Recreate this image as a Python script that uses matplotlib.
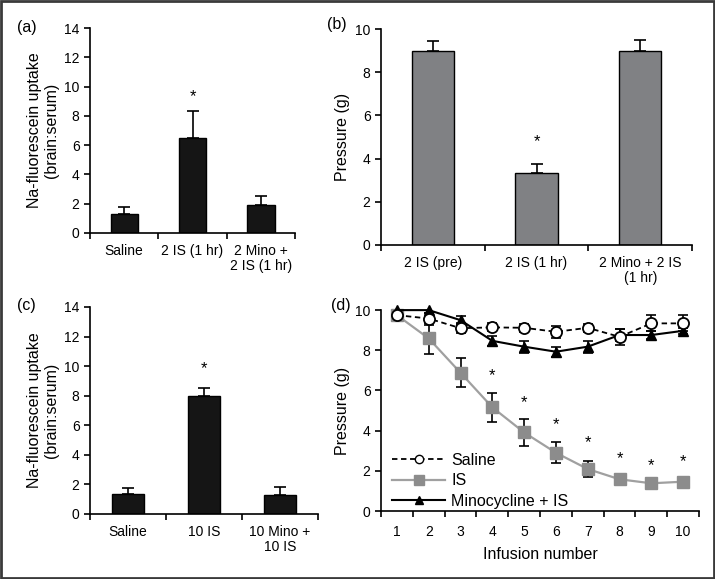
import numpy as np
import matplotlib
matplotlib.use("Agg")
import matplotlib.pyplot as plt
from matplotlib.patches import Rectangle
from matplotlib.lines import Line2D

plt.rcParams['font.family'] = ['Liberation Sans', 'DejaVu Sans']

# ===== Dati =====
# (a) Na-fluorescein, dose 2 IS
a_labels = ['Saline', '2 IS (1 hr)', '2 Mino +\n2 IS (1 hr)']
a_vals = [1.3, 6.5, 1.9]
a_err = [0.45, 1.8, 0.65]
a_star = [None, 9.3, None]

# (b) pressione, dose 2 IS
b_labels = ['2 IS (pre)', '2 IS (1 hr)', '2 Mino + 2 IS\n(1 hr)']
b_vals = [9.0, 3.35, 9.0]
b_err = [0.45, 0.4, 0.5]
b_star = [None, 4.8, None]

# (c) Na-fluorescein, dose 10 IS
c_labels = ['Saline', '10 IS', '10 Mino +\n10 IS']
c_vals = [1.35, 7.95, 1.3]
c_err = [0.4, 0.6, 0.55]
c_star = [None, 9.8, None]

# (d) pressione vs numero di infusione
infusion = [1, 2, 3, 4, 5, 6, 7, 8, 9, 10]
saline = [9.75, 9.58, 9.1, 9.14, 9.12, 8.92, 9.12, 8.67, 9.34, 9.34]
saline_err = [0.15, 0.3, 0.25, 0.2, 0.2, 0.3, 0.2, 0.4, 0.4, 0.4]
is_vals = [9.75, 8.59, 6.88, 5.16, 3.91, 2.9, 2.09, 1.58, 1.38, 1.46]
is_err = [0.15, 0.75, 0.72, 0.73, 0.68, 0.52, 0.38, 0.12, 0.2, 0.12]
mino = [10.0, 10.0, 9.5, 8.47, 8.18, 7.93, 8.18, 8.76, 8.76, 8.97]
mino_err = [0.1, 0.15, 0.2, 0.25, 0.3, 0.25, 0.3, 0.3, 0.2, 0.15]
d_star_x = [4, 5, 6, 7, 8, 9, 10]
d_star_y = [6.72, 5.39, 4.28, 3.4, 2.62, 2.24, 2.45]

TICK_FS = 10
LABEL_FS = 11.5


def style_axes(ax):
    for s in ['top', 'right']:
        ax.spines[s].set_visible(False)
    for s in ['left', 'bottom']:
        ax.spines[s].set_linewidth(1.2)
    ax.tick_params(axis='y', which='major', direction='out', length=4,
                   width=1.2, labelsize=TICK_FS)


def bar_panel(ax, labels, vals, err, stars, color, ymax, ystep, ylabel, width):
    x = np.arange(len(vals))
    ax.bar(x, vals, width=width, color=color, edgecolor='black', linewidth=1.0, zorder=2)
    ax.errorbar(x, vals, yerr=[np.zeros(len(err)), err], fmt='none', ecolor='black',
                elinewidth=1.2, capsize=4, capthick=1.2, zorder=1)
    for xi, s in zip(x, stars):
        if s is not None:
            ax.text(xi, s, '*', ha='center', va='center', fontsize=12)
    ax.set_xlim(-0.5, len(vals) - 0.5)
    ax.set_ylim(0, ymax)
    ax.set_yticks(np.arange(0, ymax + 0.1, ystep))
    ax.set_xticks(x)
    ax.set_xticklabels(labels, fontsize=TICK_FS, linespacing=1.1)
    ax.tick_params(axis='x', which='major', length=0, pad=8)
    ax.set_xticks(np.arange(-0.5, len(vals)), minor=True)
    ax.tick_params(axis='x', which='minor', direction='out', length=4, width=1.2)
    ax.set_ylabel(ylabel, fontsize=LABEL_FS, linespacing=1.1)
    style_axes(ax)


fig = plt.figure(figsize=(7.15, 5.79), dpi=100)

ax_a = fig.add_axes([0.1259, 0.5976, 0.2867, 0.354])
ax_b = fig.add_axes([0.5329, 0.5769, 0.435, 0.373])
ax_c = fig.add_axes([0.1259, 0.1123, 0.319, 0.3575])
ax_d = fig.add_axes([0.5329, 0.1174, 0.4448, 0.347])

ylab_na = 'Na-fluorescein uptake\n(brain:serum)'
bar_panel(ax_a, a_labels, a_vals, a_err, a_star, '#151515', 14, 2, ylab_na, 0.4)
bar_panel(ax_b, b_labels, b_vals, b_err, b_star, '#808184', 10, 2, 'Pressure (g)', 0.41)
bar_panel(ax_c, c_labels, c_vals, c_err, c_star, '#151515', 14, 2, ylab_na, 0.42)

# ===== Pannello (d) =====
ax = ax_d
ax.errorbar(infusion, saline, yerr=saline_err, fmt='none', ecolor='black',
            elinewidth=1.2, capsize=3.5, capthick=1.2, zorder=2)
ax.errorbar(infusion, is_vals, yerr=is_err, fmt='none', ecolor='black',
            elinewidth=1.2, capsize=3.5, capthick=1.2, zorder=2)
ax.errorbar(infusion, mino, yerr=mino_err, fmt='none', ecolor='black',
            elinewidth=1.2, capsize=3.5, capthick=1.2, zorder=2)
ax.plot(infusion, is_vals, color='#a0a0a0', lw=1.6, marker='s', ms=8,
        mfc='#8c8c8c', mec='#8c8c8c', zorder=3, clip_on=False)
ax.plot(infusion, mino, color='black', lw=1.5, marker='^', ms=7.5,
        mfc='black', mec='black', zorder=4, clip_on=False)
ax.plot(infusion, saline, color='black', lw=1.3, ls=(0, (3, 2)), marker='o', ms=8,
        mfc='white', mec='black', mew=1.3, zorder=5, clip_on=False)
for xs, ys in zip(d_star_x, d_star_y):
    ax.text(xs, ys, '*', ha='center', va='center', fontsize=12)

ax.set_xlim(0.5, 10.5)
ax.set_ylim(0, 10)
ax.set_yticks(np.arange(0, 11, 2))
ax.set_xticks(infusion)
ax.tick_params(axis='x', which='major', length=0, pad=10, labelsize=TICK_FS)
ax.set_xticks(np.arange(0.5, 11, 1), minor=True)
ax.tick_params(axis='x', which='minor', direction='out', length=4, width=1.2)
ax.set_xlabel('Infusion number', fontsize=LABEL_FS, labelpad=6)
ax.set_ylabel('Pressure (g)', fontsize=LABEL_FS)
style_axes(ax)

handles = [
    Line2D([], [], color='black', lw=1.3, ls=(0, (3, 2)), marker='o', ms=6,
           mfc='white', mec='black'),
    Line2D([], [], color='#a0a0a0', lw=1.6, marker='s', ms=7,
           mfc='#8c8c8c', mec='#8c8c8c'),
    Line2D([], [], color='black', lw=1.5, marker='^', ms=6, mfc='black'),
]
ax.legend(handles, ['Saline', 'IS', 'Minocycline + IS'], loc='lower left',
          bbox_to_anchor=(0.0, -0.045), frameon=False, fontsize=LABEL_FS,
          handlelength=3.3, handletextpad=0.4, labelspacing=0.35, borderaxespad=0.3)

# ===== Etichette dei pannelli =====
fig.text(0.024, 0.953, '(a)', fontsize=LABEL_FS, va='center')
fig.text(0.457, 0.957, '(b)', fontsize=LABEL_FS, va='center')
fig.text(0.024, 0.473, '(c)', fontsize=LABEL_FS, va='center')
fig.text(0.463, 0.473, '(d)', fontsize=LABEL_FS, va='center')

# cornice esterna
fig.patches.append(Rectangle((0.0015, 0.002), 0.997, 0.996, transform=fig.transFigure,
                             fill=False, edgecolor='#3a3a3a', lw=2.0))

fig.savefig('out.png', dpi=100)
